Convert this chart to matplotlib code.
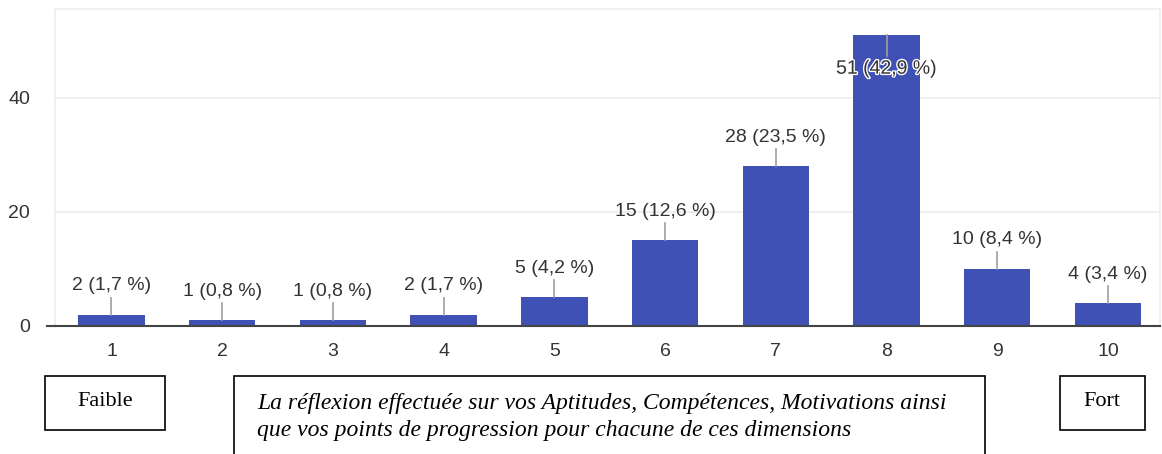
import matplotlib.pyplot as plt
import matplotlib.patheffects as pe
from matplotlib.patches import Rectangle

W, H = 1162, 454

scores = [1, 2, 3, 4, 5, 6, 7, 8, 9, 10]
counts = [2, 1, 1, 2, 5, 15, 28, 51, 10, 4]
pcts = ["1,7", "0,8", "0,8", "1,7", "4,2", "12,6", "23,5", "42,9", "8,4", "3,4"]
yticks = [0, 20, 40]

question = ("La réflexion effectuée sur vos Aptitudes, Compétences, Motivations ainsi\n"
            "que vos points de progression pour chacune de ces dimensions")

plt.rcParams['font.family'] = ['Liberation Sans', 'DejaVu Sans']

fig = plt.figure(figsize=(W / 100, H / 100), dpi=100)

# plot area in pixel coords of the reference
x0, x1, ytop, ybase = 55, 1160, 9, 326
ax = fig.add_axes([x0 / W, (H - ybase) / H, (x1 - x0) / W, (ybase - ytop) / H])

ax.bar(scores, counts, width=0.6, color="#3f51b5", zorder=3)
ax.set_xlim(0.49, 10.47)
ax.set_ylim(0, 55.6)

ax.set_yticks(yticks)
ax.set_xticks(scores)
ax.yaxis.grid(True, color="#ebebeb", lw=1.2, zorder=0)
ax.tick_params(length=0, labelsize=14, labelcolor="#333333")
ax.tick_params(axis="x", pad=12)
ax.tick_params(axis="y", pad=18)
for s in ["left", "top", "right"]:
    ax.spines[s].set_color("#eeeeee")
    ax.spines[s].set_linewidth(1.2)
ax.spines["bottom"].set_color("#444444")
ax.spines["bottom"].set_linewidth(1.5)
ax.spines["bottom"].set_zorder(5)
# baseline runs a bit past the frame on the left
ax.plot([0.42, 0.49], [0, 0], color="#444444", lw=1.5, clip_on=False, zorder=5)

# value labels with leader lines (pixel offsets -> data units)
ppu = (ybase - ytop) / 55.6
for x, c, p in zip(scores, counts, pcts):
    label = f"{c} ({p} %)"
    if c > 45:
        ax.plot([x, x], [c, c - 21 / ppu], color="#9e9e9e", lw=1.2, zorder=4)
        ax.text(x, c - 34 / ppu, label, ha="center", va="center", fontsize=14,
                color="#333333", zorder=6,
                path_effects=[pe.withStroke(linewidth=2, foreground="white")])
    else:
        ax.plot([x, x], [c, c + 17 / ppu], color="#9e9e9e", lw=1.2, zorder=4)
        ax.text(x, c + 29 / ppu, label, ha="center", va="center", fontsize=14,
                color="#333333", zorder=6)

# boxes under the chart
def box(l, t, r, b):
    fig.patches.append(Rectangle((l / W, (H - b) / H), (r - l) / W, (b - t) / H,
                                 transform=fig.transFigure, fill=False,
                                 edgecolor="black", lw=1.2))

box(45, 376, 165, 430)
box(234, 376, 985, 460)
box(1060, 376, 1145, 430)

fig.text(105 / W, 1 - 401 / H, "Faible", ha="center", va="center",
         family="Liberation Serif", fontsize=16)
fig.text(1102 / W, 1 - 401 / H, "Fort", ha="center", va="center",
         family="Liberation Serif", fontsize=16)
fig.text(257 / W, 1 - 417 / H, question, ha="left", va="center",
         family="Liberation Serif", style="italic", fontsize=17, linespacing=1.32)

fig.savefig("out.png", dpi=100)
